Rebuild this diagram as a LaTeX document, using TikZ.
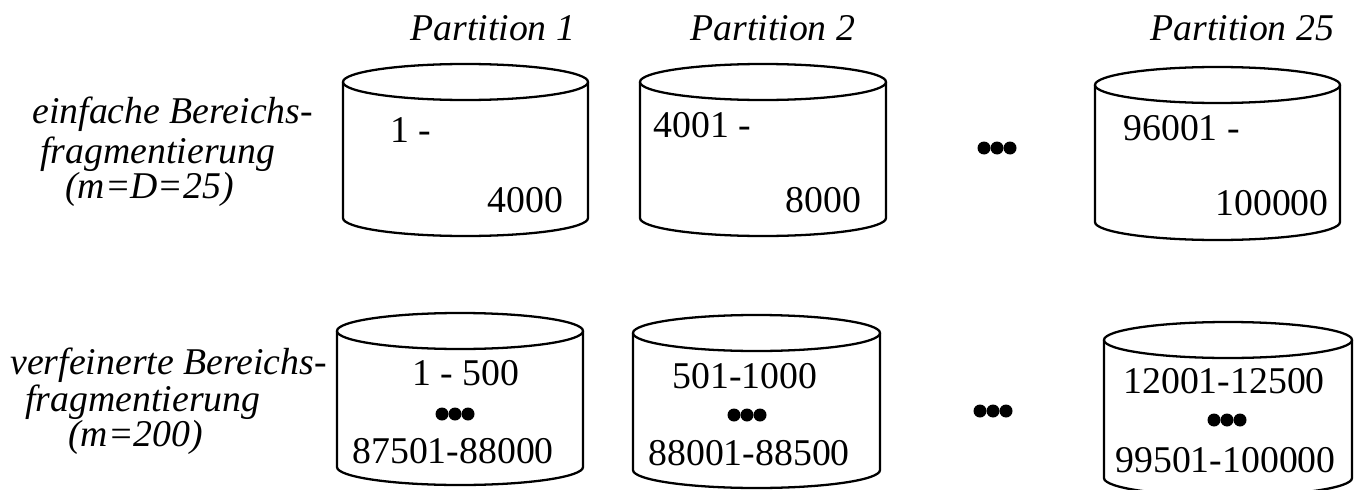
\documentclass[tikz,border=0pt]{standalone}
\usepackage{fontspec}
\setmainfont{Liberation Serif}
\usepackage{tikz}

\tikzset{
  drum/.style={line width=1.3pt},
  lbl/.style={font=\fontsize{21.5}{24}\selectfont\itshape, inner sep=0pt, anchor=base west},
  num/.style={inner sep=0pt, anchor=base west}
}

\begin{document}
\begin{tikzpicture}[x=0.02cm, y=0.02cm, font=\fontsize{21.5}{24}\selectfont]
\useasboundingbox (0,0) rectangle (1356,-490);

% column heads
\node[lbl] (p1) at (410,-40) {Partition 1};
\node[lbl] (p2) at (690,-40) {Partition 2};
\node[lbl] (p25) at (1150,-40) {Partition 25};

% row labels
\node[lbl] (einf) at (32,-123) {einfache Bereichs-};
\node[lbl] (einfB) at (40,-163) {fragmentierung};
\node[lbl] (einfC) at (65,-198) {(m=D=25)};

\node[lbl] (verf) at (10,-374) {verfeinerte Bereichs-};
\node[lbl] (verfB) at (25,-411) {fragmentierung};
\node[lbl] (verfC) at (68,-446) {(m=200)};

% cylinders: left/right/top centre/bottom centre
\foreach \l/\r/\t/\b in {343/588/82/218, 640/886/82/218, 1095/1340/85/222,
                         337/583/331/467, 633/880/333/470, 1104/1352/340/478}{
  \pgfmathsetmacro{\cx}{(\l+\r)/2}
  \pgfmathsetmacro{\rx}{(\r-\l)/2}
  \draw[drum] (\l,-\t) -- (\l,-\b)
    arc[start angle=180, end angle=360, x radius=\rx, y radius=18] -- (\r,-\t);
  \draw[drum, fill=white] (\cx,-\t) ellipse[x radius=\rx, y radius=18];
}

% simple range partitions
\node[num] (a1) at (390,-142) {1 -};
\node[num] (a2) at (487,-212) {4000};
\node[num] (b1) at (653,-137) {4001 -};
\node[num] (b2) at (785,-212) {8000};
\node[num] (c1) at (1123,-140) {96001 -};
\node[num] (c2) at (1215,-215) {100000};

% refined range partitions
\node[num] (d1) at (412,-385) {1 - 500};
\node[num] (d2) at (352,-463) {87501-88000};
\node[num] (e1) at (672,-388) {501-1000};
\node[num] (e2) at (648,-465) {88001-88500};
\node[num] (f1) at (1123,-393) {12001-12500};
\node[num] (f2) at (1115,-472) {99501-100000};

% dot rows
\foreach \x/\y in {997/148, 993/411, 455/414, 747/415, 1227/420}{
  \foreach \d in {-13,0,13}
    \fill (\x+\d,-\y) circle (6.5);
}
\end{tikzpicture}
\end{document}
